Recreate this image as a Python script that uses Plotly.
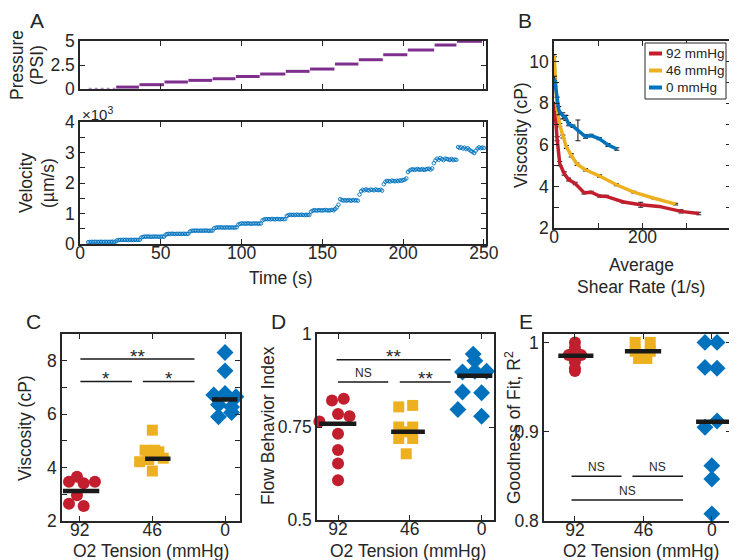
import plotly.graph_objects as go

W, H = 737, 560
RED, YEL, BLU, PUR, INK = '#C21E2E', '#EDB120', '#0072BD', '#7E2F8E', '#262626'
FONT = 'Arial, Liberation Sans, sans-serif'
FS = 17.5

# ---------------- Panel A data ----------------
pressure_start = [5.4, 22.4, 36.8, 52.3, 67.1, 82.1, 96.5, 111.5, 127.4, 142.4, 157.8, 172.6, 187.7, 202.9, 219.5, 233.3]
pressure_end = [22.0, 36.5, 52.0, 66.8, 81.8, 96.2, 111.2, 127.1, 142.1, 157.5, 172.3, 187.4, 202.6, 219.2, 233.0, 248.8]
pressure_level = [0, 0.2, 0.45, 0.73, 0.9, 1.07, 1.3, 1.56, 1.84, 2.08, 2.6, 3.05, 3.57, 4.06, 4.58, 4.97]

vel_time = [5, 6, 7, 8, 9, 10, 11, 12, 13, 14, 15, 16, 17, 18, 19, 20, 21, 22,
            23, 24, 25, 26, 27, 28, 29, 30, 31, 32, 33, 34, 35, 36, 37,
            38, 39, 40, 41, 42, 43, 44, 45, 46, 47, 48, 49, 50, 51, 52,
            53, 54, 55, 56, 57, 58, 59, 60, 61, 62, 63, 64, 65, 66, 67,
            68, 69, 70, 71, 72, 73, 74, 75, 76, 77, 78, 79, 80, 81, 82,
            83, 84, 85, 86, 87, 88, 89, 90, 91, 92, 93, 94, 95, 96, 97,
            98, 99, 100, 101, 102, 103, 104, 105, 106, 107, 108, 109, 110, 111, 112,
            113, 114, 115, 116, 117, 118, 119, 120, 121, 122, 123, 124, 125, 126, 127,
            128, 129, 130, 131, 132, 133, 134, 135, 136, 137, 138, 139, 140, 141, 142,
            143, 144, 145, 146, 147, 148, 149, 150, 151, 152, 153, 154, 155, 156, 157,
            158, 159, 160, 161, 162, 163, 164, 165, 166, 167, 168, 169, 170, 171, 172,
            173, 174, 175, 176, 177, 178, 179, 180, 181, 182, 183, 184, 185, 186, 187,
            188, 189, 190, 191, 192, 193, 194, 195, 196, 197, 198, 199, 200, 201, 202,
            203, 204, 205, 206, 207, 208, 209, 210, 211, 212, 213, 214, 215, 216, 217, 218,
            219, 220, 221, 222, 223, 224, 225, 226, 227, 228, 229, 230, 231, 232, 233,
            234, 235, 236, 237, 238, 239, 240, 241, 242, 243, 244, 245, 246, 247, 248, 249, 250]
velocity = [60, 65, 70, 68, 72, 70, 66, 71, 73, 69, 70, 72, 68, 71, 70, 74, 72, 75,
            120, 130, 135, 132, 138, 134, 136, 131, 137, 135, 133, 138, 136, 134, 139,
            215, 235, 242, 238, 245, 240, 236, 243, 239, 244, 241, 237, 246, 242, 240,
            305, 325, 335, 330, 338, 332, 328, 336, 331, 334, 329, 337, 333, 330, 335,
            410, 430, 438, 434, 440, 436, 431, 439, 433, 437, 442, 435, 430, 438, 436,
            515, 535, 545, 540, 548, 538, 543, 536, 546, 541, 539, 544, 537, 542, 547,
            640, 660, 675, 668, 672, 665, 678, 670, 662, 674, 669, 676, 666, 671, 673,
            780, 805, 820, 812, 818, 810, 825, 815, 808, 822, 816, 811, 819, 813, 817,
            920, 945, 960, 952, 958, 948, 963, 955, 950, 961, 954, 947, 959, 956, 952,
            1060, 1090, 1110, 1100, 1095, 1112, 1105, 1098, 1108, 1115, 1102, 1096, 1110, 1120, 1105,
            1150, 1200, 1290, 1470, 1440, 1425, 1435, 1420, 1440, 1430, 1418, 1445, 1428, 1436, 1422,
            1620, 1730, 1780, 1760, 1790, 1770, 1755, 1785, 1775, 1760, 1790, 1770, 1765, 1780, 1750,
            1960, 2040, 2070, 2060, 2050, 2080, 2065, 2055, 2075, 2060, 2090, 2070, 2100, 2110, 2150,
            2360, 2410, 2440, 2450, 2430, 2445, 2460, 2435, 2440, 2455, 2430, 2445, 2460, 2470, 2440, 2480,
            2650, 2740, 2800, 2760, 2820, 2780, 2750, 2800, 2790, 2770, 2760, 2790, 2750, 2770, 2760,
            3180, 3150, 3170, 3130, 3160, 3110, 3140, 3090, 3050, 3020, 2980, 3060, 3130, 3170, 3140, 3160, 3150]

# ---------------- Panel B data ----------------
shear_92 = [1, 3, 7, 13, 23, 33, 48, 68, 84, 103, 118, 157, 196, 237, 287, 327]
visc_92 = [8.0, 7.2, 6.3, 5.1, 4.62, 4.33, 4.14, 3.7, 3.72, 3.54, 3.52, 3.25, 3.12, 3.04, 2.8, 2.7]
err_92 = [0.05, 0.08, 0.1, 0.1, 0.08, 0.07, 0.06, 0.06, 0.05, 0.04, 0.05, 0.04, 0.12, 0.04, 0.08, 0.06]
shear_46 = [0.5, 3, 7, 13, 20, 28, 39, 52, 71, 103, 141, 180, 226, 275]
visc_46 = [10.3, 8.9, 7.7, 6.95, 6.4, 5.9, 5.5, 5.07, 4.8, 4.5, 4.08, 3.73, 3.43, 3.15]
err_46 = [0.05, 0.08, 0.1, 0.08, 0.07, 0.07, 0.08, 0.06, 0.06, 0.06, 0.05, 0.04, 0.03, 0.04]
shear_0 = [1, 7, 11, 20, 27, 33, 43, 54, 71, 84, 102, 122, 142]
visc_0 = [9.2, 8.15, 7.65, 7.4, 7.3, 7.0, 6.9, 6.7, 6.4, 6.45, 6.3, 6.0, 5.8]
err_0 = [0.1, 0.15, 0.2, 0.15, 0.12, 0.08, 0.06, 0.5, 0.08, 0.06, 0.05, 0.07, 0.06]

# ---------------- Panels C, D, E data ----------------
categories = ['92', '46', '0']
legend_names = ['92 mmHg', '46 mmHg', '0 mmHg']

c_x = [[0.853, 0.963, 1.055, 1.21, 0.963, 0.853, 1.055],
       [2.0, 1.9, 2.033, 2.09, 1.825, 2.15, 2.0, 1.95],
       [3.0, 3.0, 2.845, 3.0, 3.15, 2.91, 3.09, 2.91, 3.09]]
c_y = [[3.47, 3.66, 3.41, 3.47, 2.96, 2.65, 2.56],
       [5.40, 4.65, 4.65, 4.59, 4.22, 4.35, 3.87, 4.3],
       [8.31, 7.62, 6.72, 6.77, 6.65, 6.35, 6.27, 5.9, 6.06]]
c_mean = [3.12, 4.33, 6.55]
c_mean_x0 = [0.77, 1.9, 2.82]
c_mean_x1 = [1.27, 2.25, 3.17]

d_x = [[0.916, 1.08, 1.0, 1.16, 0.74, 1.0, 1.0, 1.0, 1.0],
       [1.846, 2.04, 1.846, 2.04, 1.846, 2.04, 1.95, 1.95],
       [2.883, 2.906, 2.734, 2.906, 3.07, 2.734, 3.0, 2.67, 3.0]]
d_y = [[0.821, 0.826, 0.785, 0.779, 0.765, 0.732, 0.688, 0.652, 0.607],
       [0.804, 0.808, 0.75, 0.75, 0.719, 0.719, 0.678, 0.737],
       [0.946, 0.928, 0.898, 0.9, 0.9, 0.844, 0.842, 0.797, 0.779]]
d_mean = [0.759, 0.737, 0.888]
d_mean_x0 = [0.735, 1.74, 2.66]
d_mean_x1 = [1.255, 2.21, 3.15]

e_x = [[1.0, 1.0, 0.91, 1.09, 1.0, 1.0, 1.0, 1.0],
       [1.88, 2.1, 1.88, 2.1, 1.93, 2.05, 1.99],
       [2.9, 3.076, 2.9, 3.076, 2.9, 3.076, 3.0, 3.0, 3.0]]
e_y = [[1.0, 0.994, 0.986, 0.986, 0.985, 0.978, 0.971, 0.968],
       [1.0, 1.0, 0.99, 0.99, 0.982, 0.982, 0.984],
       [1.0, 1.0, 0.972, 0.971, 0.905, 0.912, 0.862, 0.847, 0.808]]
e_mean = [0.985, 0.99, 0.911]
e_mean_x0 = [0.757, 1.73, 2.77]
e_mean_x1 = [1.27, 2.26, 3.26]

# significance bars: x0, x1, y, label
c_sig_x0 = [1.01, 1.01, 1.87]
c_sig_x1 = [2.58, 1.72, 2.58]
c_sig_y = [8.06, 7.22, 7.22]
c_sig_lab = ['**', '*', '*']
d_sig_x0 = [0.98, 1.0, 1.86]
d_sig_x1 = [2.57, 1.7, 2.57]
d_sig_y = [0.931, 0.871, 0.871]
d_sig_lab = ['**', 'NS', '**']
e_sig_x0 = [0.95, 1.84, 0.95]
e_sig_x1 = [1.68, 2.58, 2.58]
e_sig_y = [0.85, 0.85, 0.8236]
e_sig_lab = ['NS', 'NS', 'NS']

# ---------------- figure ----------------
fig = go.Figure()


def px_dom(a, b, total, flip=False):
    if flip:
        return [1 - b / total, 1 - a / total]
    return [a / total, b / total]


def axis(domain, rng, anchor, is_x=False, minor_dtick=None, **kw):
    d = dict(domain=domain, range=rng, anchor=anchor, showline=True, linecolor=INK,
             linewidth=1.5, mirror='allticks', ticks='inside', ticklen=5, tickwidth=1.2,
             tickcolor=INK, showgrid=False, zeroline=False, automargin=False,
             tickfont=dict(size=FS, color=INK, family=FONT), fixedrange=True)
    if is_x:
        d['ticklabelstandoff'] = -8
    if minor_dtick is not None:
        d['minor'] = dict(dtick=minor_dtick, ticks='inside', ticklen=5, tickwidth=1.2,
                          tickcolor=INK, showgrid=False)
    d.update(kw)
    return d


# Panel A - pressure
px_, py_ = [], []
for s, e, lv in zip(pressure_start[1:], pressure_end[1:], pressure_level[1:]):
    px_ += [s, e, None]
    py_ += [lv, lv, None]
fig.add_trace(go.Scatter(x=[pressure_start[0], pressure_end[0]], y=[pressure_level[0]] * 2,
                         mode='lines', line=dict(color='#B48BC0', width=2.5, dash='dot'),
                         xaxis='x', yaxis='y', showlegend=False, cliponaxis=False))
fig.add_trace(go.Scatter(x=px_, y=py_, mode='lines', line=dict(color=PUR, width=3),
                         xaxis='x', yaxis='y', showlegend=False, connectgaps=False, cliponaxis=False))

# Panel A - velocity
fig.add_trace(go.Scatter(x=vel_time, y=velocity, mode='markers',
                         marker=dict(symbol='circle-open', size=3.5, color=BLU, line=dict(width=0.9, color=BLU)),
                         xaxis='x2', yaxis='y2', showlegend=False))

# Panel B
b_series = [(shear_92, visc_92, err_92, RED, legend_names[0]),
            (shear_46, visc_46, err_46, YEL, legend_names[1]),
            (shear_0, visc_0, err_0, BLU, legend_names[2])]
for sx, vy, er, col, nm in b_series:
    fig.add_trace(go.Scatter(x=sx, y=vy, mode='lines', name=nm,
                             line=dict(color=col, width=3.5),
                             error_y=dict(type='data', array=er, color='#1a1a1a', thickness=1.1, width=2.5),
                             xaxis='x3', yaxis='y3', showlegend=False))

# Panels C, D, E
symbols = ['circle', 'square', 'diamond']
sizes = [12, 11, 13]
colors = [RED, YEL, BLU]
panel_sets = [('x4', 'y4', c_x, c_y, c_mean, c_mean_x0, c_mean_x1),
              ('x5', 'y5', d_x, d_y, d_mean, d_mean_x0, d_mean_x1),
              ('x6', 'y6', e_x, e_y, e_mean, e_mean_x0, e_mean_x1)]
for xa, ya, xs, ys, mn, m0, m1 in panel_sets:
    for i in range(3):
        fig.add_trace(go.Scatter(x=xs[i], y=ys[i], mode='markers', name=categories[i] + ' mmHg',
                                 marker=dict(symbol=symbols[i], size=sizes[i], color=colors[i], line=dict(width=0)),
                                 xaxis=xa, yaxis=ya, showlegend=False, cliponaxis=False))
    for i in range(3):
        fig.add_trace(go.Scatter(x=[m0[i], m1[i]], y=[mn[i], mn[i]], mode='lines',
                                 line=dict(color='#1a1a1a', width=4.5),
                                 xaxis=xa, yaxis=ya, showlegend=False))

shapes = []
annotations = []
for xa, ya, x0s, x1s, ys, labs in [('x4', 'y4', c_sig_x0, c_sig_x1, c_sig_y, c_sig_lab),
                                    ('x5', 'y5', d_sig_x0, d_sig_x1, d_sig_y, d_sig_lab),
                                    ('x6', 'y6', e_sig_x0, e_sig_x1, e_sig_y, e_sig_lab)]:
    for x0, x1, yv, lab in zip(x0s, x1s, ys, labs):
        shapes.append(dict(type='line', xref=xa, yref=ya, x0=x0, x1=x1, y0=yv, y1=yv,
                           line=dict(color='#1a1a1a', width=1.5)))
        is_ns = lab == 'NS'
        annotations.append(dict(xref=xa, yref=ya, x=(x0 + x1) / 2, y=yv, text=lab, showarrow=False,
                                yanchor='middle', yshift=9 if is_ns else 3,
                                font=dict(size=12 if is_ns else 19, color=INK, family=FONT)))


def ann(x, y, text, size=FS, angle=0, xanchor='center'):
    annotations.append(dict(xref='paper', yref='paper', x=x / W, y=1 - y / H, text=text,
                            showarrow=False, textangle=angle, xanchor=xanchor, yanchor='middle',
                            font=dict(size=size, color=INK, family=FONT)))


# manual legend for panel B (box, swatches, labels)
shapes.append(dict(type='rect', xref='paper', yref='paper', x0=637 / W, x1=718 / W,
                   y0=1 - 91 / H, y1=1 - 35 / H, line=dict(color=INK, width=1), fillcolor='white',
                   layer='above'))
for (sx, vy, er, col, nm), ly in zip(b_series, [45.5, 62.5, 79.5]):
    shapes.append(dict(type='line', xref='paper', yref='paper', x0=641 / W, x1=654 / W,
                       y0=1 - ly / H, y1=1 - ly / H, line=dict(color=col, width=4), layer='above'))
    ann(656, ly, nm, size=13.5, xanchor='left')

# axis titles and panel letters
ann(9, 57, 'Pressure', angle=-90)
ann(29, 57, '(PSI)', angle=-90)
ann(18, 175, 'Velocity', angle=-90)
ann(40, 175, '(µm/s)', angle=-90)
ann(273, 270, 'Time (s)')
ann(72, 105, '×10<sup>3</sup>', size=15, xanchor='left')
ann(513, 127, 'Viscosity (cP)', angle=-90)
ann(633, 257, 'Average')
ann(633, 279, 'Shear Rate (1/s)')
ann(17, 420, 'Viscosity (cP)', angle=-90)
ann(143, 543, 'O2 Tension (mmHg)')
ann(260, 418, 'Flow Behavior Index', angle=-90)
ann(400, 543, 'O2 Tension (mmHg)')
ann(505, 420, 'Goodness of Fit, R<sup>2</sup>', angle=-90)
ann(633, 543, 'O2 Tension (mmHg)')
ann(29, 12, 'A', size=21)
ann(517, 12, 'B', size=21)
ann(25, 313, 'C', size=21)
ann(270, 313, 'D', size=21)
ann(518, 313, 'E', size=21)

t50 = [0, 50, 100, 150, 200, 250]

fig.update_layout(
    width=W, height=H, margin=dict(l=0, r=0, t=0, b=0),
    paper_bgcolor='white', plot_bgcolor='white',
    font=dict(family=FONT, color=INK), showlegend=False,
    xaxis=axis(px_dom(72, 478, W), [0, 251.3], 'y', True, tickvals=t50, showticklabels=False),
    yaxis=axis(px_dom(33, 81, H, True), [0, 5], 'x', tickvals=[0, 2.5, 5], ticktext=['0', '2.5', '5']),
    xaxis2=axis(px_dom(72, 478, W), [0, 251.3], 'y2', True, tickvals=t50),
    yaxis2=axis(px_dom(114, 236, H, True), [0, 4000], 'x2', minor_dtick=500,
                tickvals=[0, 1000, 2000, 3000, 4000], ticktext=['0', '1', '2', '3', '4']),
    xaxis3=axis(px_dom(546, 723, W), [0, 400], 'y3', True, minor_dtick=100, tickvals=[0, 200, 400]),
    yaxis3=axis(px_dom(33, 220, H, True), [2, 11], 'x3', minor_dtick=1, tickvals=[2, 4, 6, 8, 10]),
    xaxis4=axis(px_dom(54, 232, W), [0.757, 3.206], 'y4', True, tickvals=[1, 2, 3], ticktext=categories),
    yaxis4=axis(px_dom(326, 513, H, True), [2, 9], 'x4', minor_dtick=1, tickvals=[2, 4, 6, 8]),
    xaxis5=axis(px_dom(309, 486, W), [0.707, 3.173], 'y5', True, tickvals=[1, 2, 3], ticktext=categories),
    yaxis5=axis(px_dom(326, 512, H, True), [0.5, 1], 'x5', tickvals=[0.5, 0.75, 1], ticktext=['0.5', '0.75', '1']),
    xaxis6=axis(px_dom(536, 723, W), [0.548, 3.28], 'y6', True, tickvals=[1, 2, 3], ticktext=categories),
    yaxis6=axis(px_dom(326, 513, H, True), [0.8, 1.0094], 'x6', tickvals=[0.8, 0.9, 1], ticktext=['0.8', '0.9', '1']),
    shapes=shapes, annotations=annotations,
)

fig.write_html('out.html')
